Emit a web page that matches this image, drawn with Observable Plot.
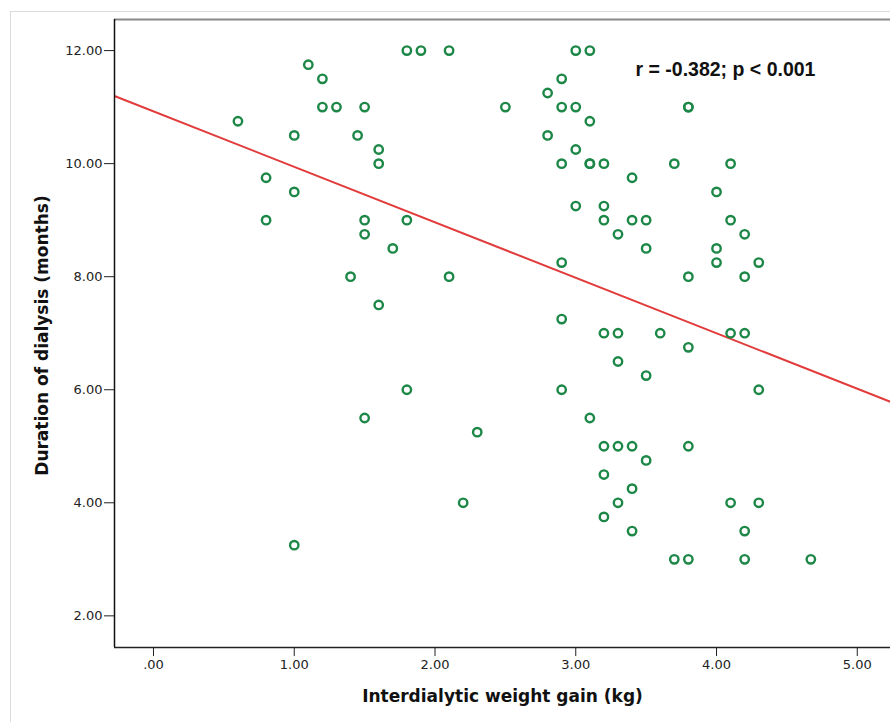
<!DOCTYPE html>
<html>
<head>
<meta charset="utf-8">
<script src="https://cdn.jsdelivr.net/npm/d3@7"></script>
<script src="https://cdn.jsdelivr.net/npm/@observablehq/plot@0.6"></script>
<style>
  html, body { margin: 0; padding: 0; background: #fff; }
  #wrap { position: relative; width: 890px; height: 722px; overflow: hidden; }
  #outer { position: absolute; left: 10px; top: 11px; width: 900px; height: 720px; border: 1px solid #dcdcdc; box-sizing: border-box; }
  #chart { position: absolute; left: 0; top: 0; }
</style>
</head>
<body>
<div id="wrap"><div id="outer"></div><div id="chart"></div></div>
<script>
// Interdialytic weight gain (kg)
const weightGain = [
  1.8, 1.9, 2.1, 1.1, 1.2, 1.2, 1.3, 1.5, 2.5, 0.6,
  1.0, 1.45, 1.6, 1.6, 0.8, 1.0, 0.8, 1.5, 1.5, 1.8,
  1.7, 1.4, 2.1, 1.6, 3.0, 3.1, 2.9, 2.8, 2.9, 3.0,
  3.8, 3.8, 3.1, 2.8, 3.0, 2.9, 3.1, 3.1, 3.2, 3.7,
  4.1, 3.4, 4.0, 3.0, 3.2, 3.2, 3.4, 3.5, 4.1, 3.3,
  4.2, 3.5, 4.0, 4.0, 4.3, 2.9, 3.8, 4.2, 2.9, 3.2,
  3.3, 3.6, 4.1, 4.2, 3.8, 3.3, 3.5, 2.9, 4.3, 3.1,
  3.2, 3.3, 3.4, 3.8, 3.5, 3.2, 3.4, 3.3, 4.1, 4.3,
  3.2, 3.4, 4.2, 3.7, 3.8, 4.2, 4.67, 1.8, 1.5, 2.3,
  2.2, 1.0
];
// Duration of dialysis (months)
const duration = [
  12, 12, 12, 11.75, 11.5, 11, 11, 11, 11, 10.75,
  10.5, 10.5, 10.25, 10, 9.75, 9.5, 9, 9, 8.75, 9,
  8.5, 8, 8, 7.5, 12, 12, 11.5, 11.25, 11, 11,
  11, 11, 10.75, 10.5, 10.25, 10, 10, 10, 10, 10,
  10, 9.75, 9.5, 9.25, 9.25, 9, 9, 9, 9, 8.75,
  8.75, 8.5, 8.5, 8.25, 8.25, 8.25, 8, 8, 7.25, 7,
  7, 7, 7, 7, 6.75, 6.5, 6.25, 6, 6, 5.5,
  5, 5, 5, 5, 4.75, 4.5, 4.25, 4, 4, 4,
  3.75, 3.5, 3.5, 3, 3, 3, 3, 6, 5.5, 5.25,
  4, 3.25
];
const xTicks = [0, 1, 2, 3, 4, 5];
const yTicks = [2, 4, 6, 8, 10, 12];
const xDomain = [-0.277, 5.236];
const yDomain = [1.44, 12.55];
const xTitle = "Interdialytic weight gain (kg)";
const yTitle = "Duration of dialysis (months)";
const annotation = "r = -0.382; p < 0.001";

const points = weightGain.map((x, i) => ({x, y: duration[i]}));

// least-squares fit from the data
const mx = d3.mean(weightGain), my = d3.mean(duration);
const sxy = d3.sum(points, d => (d.x - mx) * (d.y - my));
const sxx = d3.sum(points, d => (d.x - mx) ** 2);
const slope = sxy / sxx;
const intercept = my - slope * mx;
const fitLine = xDomain.map(x => ({x, y: intercept + slope * x}));

const fmt = d => d === 0 ? ".00" : d.toFixed(2);

const chart = Plot.plot({
  width: 890,
  height: 722,
  marginLeft: 114,
  marginRight: 0,
  marginTop: 19,
  marginBottom: 75,
  style: {fontFamily: "DejaVu Sans", fontSize: "13px", color: "#222", background: "transparent", overflow: "visible"},
  x: {domain: xDomain, ticks: xTicks, tickFormat: fmt, tickSize: 9, tickPadding: 3, label: null},
  y: {domain: yDomain, ticks: yTicks, tickFormat: fmt, tickSize: 10, tickPadding: 2, label: null},
  marks: [
    Plot.line(fitLine, {x: "x", y: "y", stroke: "#e23b3b", strokeWidth: 2, clip: true}),
    Plot.dot(points, {x: "x", y: "y", r: 4.2, stroke: "#1c8747", strokeWidth: 2.4, fill: "none"}),
    Plot.ruleY([yDomain[1]], {stroke: "#8a8a8a", strokeWidth: 2}),
    Plot.ruleX([xDomain[0]], {stroke: "#111", strokeWidth: 1.5}),
    Plot.ruleY([yDomain[0]], {stroke: "#222", strokeWidth: 1.5}),
    Plot.text([annotation], {frameAnchor: "top-left", dx: 521, dy: 50, text: d => d, textAnchor: "start", lineAnchor: "middle",
      fontFamily: "Liberation Sans", fontWeight: "bold", fontSize: 19.5, fill: "#111"}),
    Plot.text([xTitle], {frameAnchor: "bottom", dy: 49, text: d => d, textAnchor: "middle", lineAnchor: "middle",
      fontFamily: "DejaVu Sans", fontWeight: "bold", fontSize: 17, fill: "#111"}),
    Plot.text([yTitle], {frameAnchor: "left", dx: -72, dy: 2, text: d => d, rotate: -90, textAnchor: "middle", lineAnchor: "middle",
      fontFamily: "DejaVu Sans", fontWeight: "bold", fontSize: 17, fill: "#111"})
  ]
});
document.getElementById("chart").appendChild(chart);
</script>
</body>
</html>
